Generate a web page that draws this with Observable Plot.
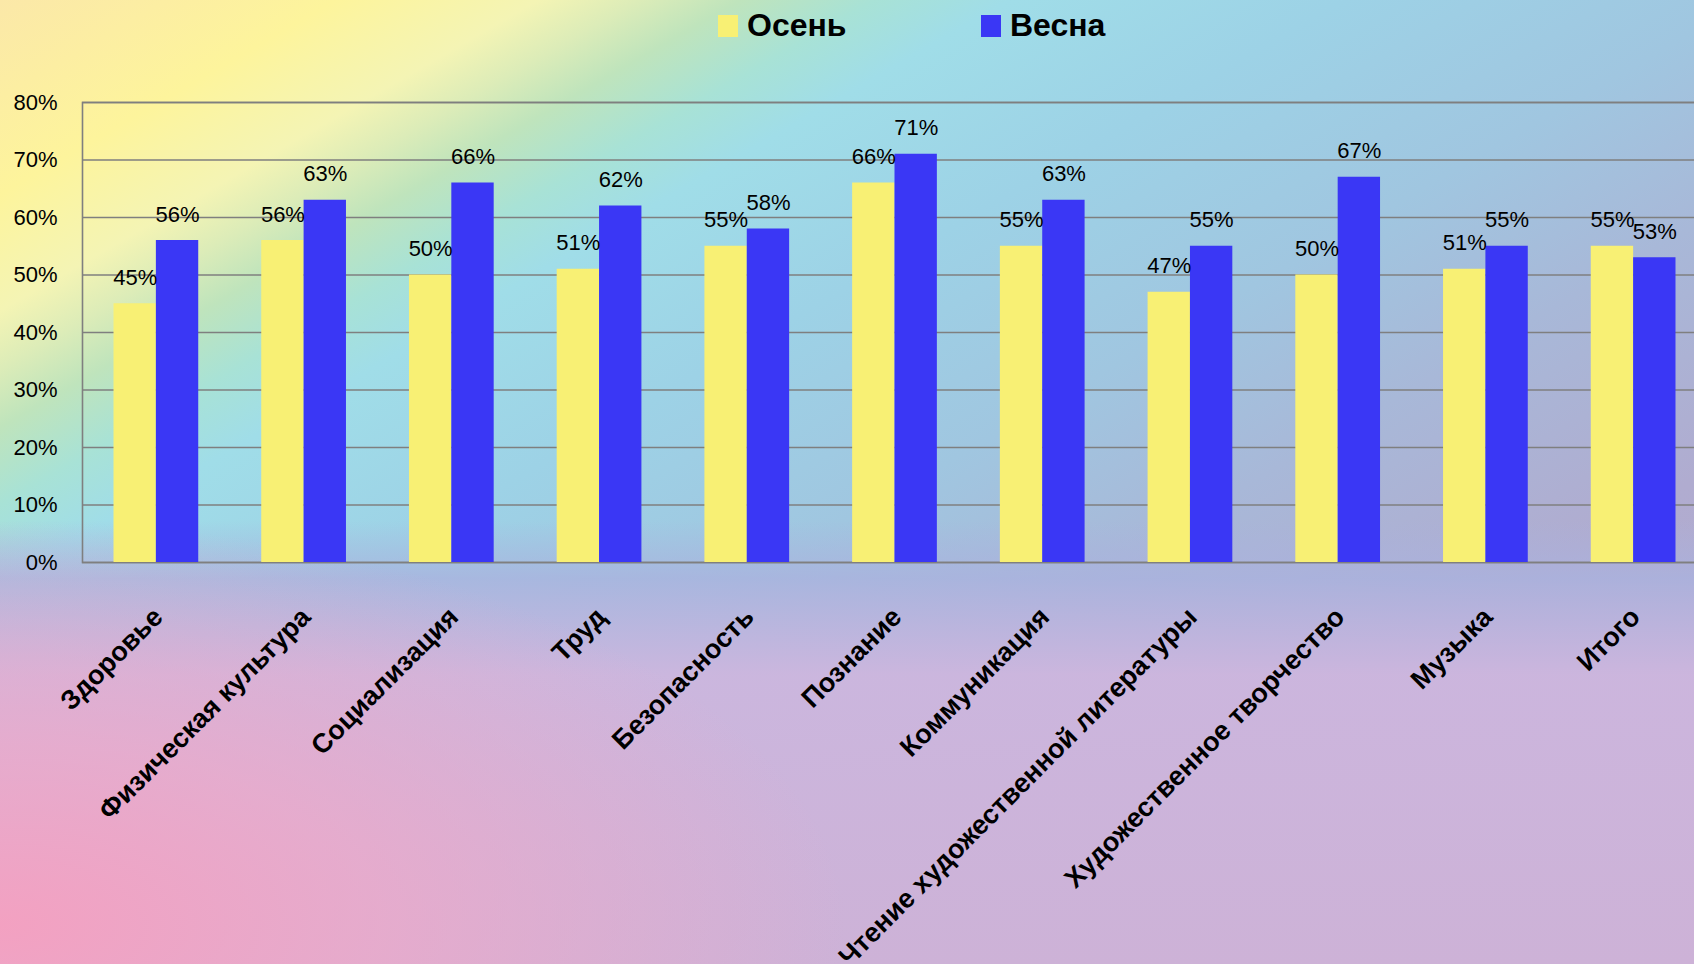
<!DOCTYPE html>
<html><head><meta charset="utf-8">
<script src="https://cdn.jsdelivr.net/npm/d3@7"></script>
<script src="https://cdn.jsdelivr.net/npm/@observablehq/plot@0.6"></script>
<style>
html,body{margin:0;padding:0;width:1694px;height:964px;overflow:hidden;}
body{
  font-family:"Liberation Sans",Arial,sans-serif;
  background:
    radial-gradient(ellipse 50% 42% at 0% 96%, rgba(245,160,192,0.95) 0%, rgba(240,168,200,0.7) 45%, rgba(240,180,210,0) 100%),
    linear-gradient(to bottom, rgba(0,0,0,0) 0%, rgba(0,0,0,0) 54%, rgba(170,178,222,0.8) 60%, rgba(205,182,222,0.95) 70%, rgba(205,178,215,1) 100%),
    linear-gradient(150deg, #fbe8a8 0%, #fdf49c 10%, #f4f4b4 16%, #dcecb8 19%, #bfe4bc 22%, #a8e2d6 26%, #a0dde8 30%, #9dd2e6 40%, #a0c6e0 52%, #a8b8d8 62%, #b0acd0 75%, #b8a8cc 100%);
}
#legend{position:relative;height:52px;}
.sw{position:absolute;top:15px;width:20px;height:22px;}
.lt{position:absolute;top:9px;font-size:32px;line-height:32px;font-weight:bold;color:#000;white-space:nowrap;}
</style></head><body>
<div id="legend"></div>
<div id="chart"></div>
<script>
const categories = ["Здоровье","Физическая культура","Социализация","Труд","Безопасность","Познание","Коммуникация","Чтение художественной литературы","Художественное творчество","Музыка","Итого"];
const autumn = [0.45,0.56,0.50,0.51,0.55,0.66,0.55,0.47,0.50,0.51,0.55];
const spring = [0.56,0.63,0.66,0.62,0.58,0.71,0.63,0.55,0.67,0.55,0.53];
const seriesNames = ["Осень","Весна"];
const seriesColors = ["#f8f074","#3a37f5"];
const yTicks = [0,0.1,0.2,0.3,0.4,0.5,0.6,0.7,0.8];

const data = categories.map((c,i)=>({cat:c, autumn:autumn[i], spring:spring[i]}));
const fmt = v => Math.round(v*100) + "%";

// legend
const legend = document.getElementById("legend");
const legendX = [718, 981];
seriesNames.forEach((n,i)=>{
  const s = document.createElement("div");
  s.className="sw"; s.style.left=legendX[i]+"px"; s.style.background=seriesColors[i];
  const t = document.createElement("div");
  t.className="lt"; t.style.left=(legendX[i]+29)+"px"; t.textContent=n;
  legend.appendChild(s); legend.appendChild(t);
});

function build(half){
  return Plot.plot({
    width: 1707, height: 912,
    marginLeft: 82, marginRight: 0, marginTop: 50, marginBottom: 402,
    style: "background: transparent; max-width: none; overflow: visible; font-family: 'Liberation Sans', Arial, sans-serif;",
    x: {domain: categories, paddingInner: 0.4265, paddingOuter: 0.2133, round: false, axis: null},
    y: {domain: [0, 0.8], axis: null},
    marks: [
      Plot.gridY(yTicks, {stroke: "#7f7f7f", strokeOpacity: 1, strokeWidth: 1.6}),
      Plot.frame({stroke: "#7f7f7f", strokeWidth: 1.6}),
      Plot.axisY(yTicks, {tickSize: 0, tickPadding: 25, tickFormat: fmt, fontSize: 22, fill: "#000"}),
      Plot.barY(data, {x: "cat", y: "autumn", fill: seriesColors[0], insetRight: half}),
      Plot.barY(data, {x: "cat", y: "spring", fill: seriesColors[1], insetLeft: half}),
      Plot.text(data, {x: "cat", y: "autumn", text: d => fmt(d.autumn), dx: -half/2, dy: -19, lineAnchor: "bottom", fontSize: 22, fill: "#000"}),
      Plot.text(data, {x: "cat", y: "spring", text: d => fmt(d.spring), dx: half/2, dy: -19, lineAnchor: "bottom", fontSize: 22, fill: "#000"}),
      Plot.text(categories, {x: d => d, text: d => d, frameAnchor: "bottom", rotate: -45, textAnchor: "end", lineAnchor: "middle", dy: 50, dx: 2, fontSize: 27, fontWeight: "bold", fill: "#000"})
    ]
  });
}
const probe = build(0);
const bw = probe.scale("x").bandwidth;
document.getElementById("chart").appendChild(build(bw/2));
</script></body></html>
